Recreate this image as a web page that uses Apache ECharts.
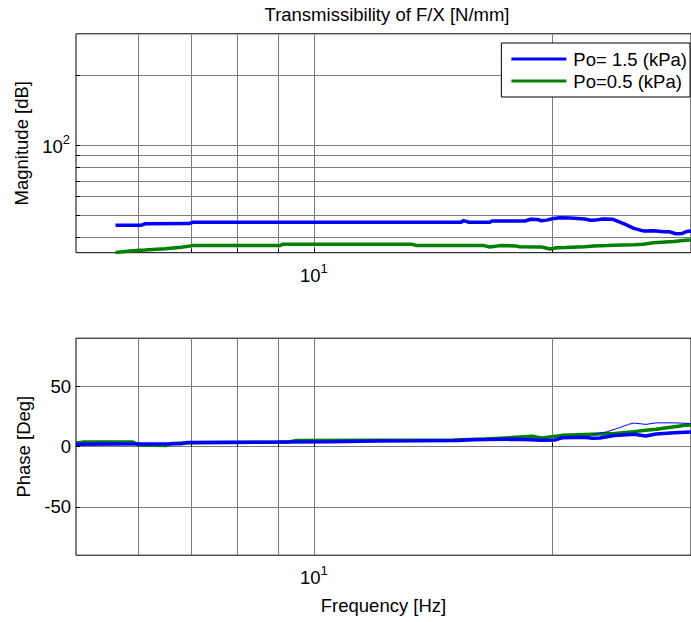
<!DOCTYPE html>
<html>
<head>
<meta charset="utf-8">
<script src="https://cdn.jsdelivr.net/npm/echarts@6/dist/echarts.min.js"></script>
<style>
html, body { margin: 0; padding: 0; background: #fff; }
#chart { width: 691px; height: 622px; }
</style>
</head>
<body>
<div id="chart"></div>
<script>
// Transmissibility magnitude (N/mm) vs frequency (Hz), Po = 1.5 kPa
const magFreqHigh = [5.61, 6.05, 6.11, 6.95, 7.02, 15.36, 15.45, 15.6, 15.7, 16.7, 16.8, 18.5, 18.8, 19.2, 19.4, 19.7, 20.0, 20.5, 21.1, 22.0, 22.4, 22.7, 23.2, 23.9, 24.7, 25.4, 26.1, 26.9, 27.7, 28.2, 28.7, 29.2, 29.6, 30.0];
const magHigh = [45.2, 45.3, 45.9, 46.0, 46.6, 46.6, 47.3, 47.0, 46.6, 46.6, 47.2, 47.2, 48.0, 47.9, 47.3, 47.6, 48.2, 48.7, 48.6, 48.1, 47.5, 47.6, 48.1, 48.0, 45.9, 43.9, 42.8, 42.9, 42.4, 42.4, 41.6, 41.7, 42.5, 42.8];

// Transmissibility magnitude, Po = 0.5 kPa
const magFreqLow = [5.61, 5.85, 6.11, 6.48, 6.8, 7.02, 9.07, 9.12, 13.3, 13.5, 16.4, 16.7, 17.2, 18.0, 18.2, 19.4, 19.9, 20.3, 20.8, 22.0, 22.6, 23.5, 24.5, 25.4, 26.1, 26.9, 28.5, 29.5, 30.0];
const magLow = [34.6, 35.1, 35.4, 35.9, 36.4, 37.0, 37.0, 37.5, 37.5, 37.0, 37.0, 36.5, 37.0, 36.9, 36.6, 36.5, 35.8, 36.2, 36.3, 36.6, 36.9, 37.0, 37.2, 37.3, 37.5, 38.1, 38.5, 39.0, 39.1];

// Phase (deg), Po = 1.5 kPa
const phaseFreqHigh = [5.0, 5.6, 6.8, 6.9, 9.0, 10.5, 12.0, 13.5, 15.2, 15.8, 16.5, 18.0, 18.8, 19.4, 20.2, 20.6, 22.0, 22.5, 23.0, 24.0, 25.4, 26.3, 27.1, 28.6, 29.5, 30.0];
const phaseHigh = [2.0, 2.2, 2.4, 3.4, 3.8, 4.2, 4.7, 4.9, 5.2, 5.8, 6.0, 6.1, 5.8, 5.3, 5.6, 7.4, 7.8, 7.0, 7.2, 9.3, 10.3, 8.8, 10.5, 11.5, 12.0, 12.2];

// Phase (deg), Po = 0.5 kPa
const phaseFreqLow = [5.0, 5.1, 5.9, 6.0, 6.5, 6.6, 7.0, 9.3, 9.5, 12.0, 15.0, 16.5, 17.8, 18.9, 19.4, 20.6, 22.0, 24.0, 25.4, 26.3, 27.1, 28.6, 29.5, 30.0];
const phaseLow = [3.0, 3.8, 3.8, 1.5, 1.0, 2.6, 3.2, 4.0, 5.2, 5.4, 5.6, 6.3, 7.6, 8.7, 7.2, 9.4, 10.2, 10.9, 12.5, 13.6, 14.5, 16.6, 17.8, 18.0];

// Phase (deg), Po = 1.5 kPa, repeat run (thin trace)
const phaseFreqRepeat = [22.5, 23.5, 24.3, 25.0, 25.4, 26.3, 27.1, 28.6, 29.5, 30.0];
const phaseRepeat = [10.2, 12.4, 15.5, 18.5, 19.6, 18.5, 19.8, 19.8, 19.4, 19.2];

// Axis ranges, grid lines and labelled ticks
const freqRange = [5, 30];
const magRange = [34.5, 300];
const phaseRange = [-90, 90];
const freqGridValues = [6, 7, 8, 9, 10, 20];
const freqLabelValues = [10];
const magGridValues = [40, 50, 60, 70, 80, 90, 100, 200];
const magLabelValues = [100];
const phaseTickValues = [-50, 0, 50];

const legendHigh = 'Po= 1.5 (kPa)';
const legendLow = 'Po=0.5 (kPa)';

const FONT = '"Liberation Sans", Arial, Helvetica, sans-serif';
const FS = 18.5;
const lg = Math.log10;
const pairs = (xs, ys, fy) => xs.map((x, i) => [lg(x), fy ? fy(ys[i]) : ys[i]]);

const gridColor = '#7a7a7a';
const powRich = {
  b: { fontSize: FS, fontFamily: FONT, color: '#000', lineHeight: 23, verticalAlign: 'bottom' },
  s: { fontSize: 13, fontFamily: FONT, color: '#000', lineHeight: 23, verticalAlign: 'top' }
};
const powLabel = v => '{b|10}{s|' + Math.round(v) + '}';

function logXAxis(gridIndex, extra) {
  return Object.assign({
    type: 'value', gridIndex,
    min: lg(freqRange[0]), max: lg(freqRange[1]),
    axisLine: { show: false },
    axisTick: { show: true, inside: true, length: 4, customValues: freqGridValues.map(lg), lineStyle: { color: '#000' } },
    axisLabel: { customValues: freqLabelValues.map(lg), formatter: powLabel, rich: powRich, margin: 9 },
    splitLine: { show: true, lineStyle: { color: gridColor, width: 1 } }
  }, extra || {});
}

const chart = echarts.init(document.getElementById('chart'), null, { renderer: 'svg' });

chart.setOption({
  animation: false,
  backgroundColor: '#fff',
  title: {
    text: 'Transmissibility of F/X [N/mm]',
    left: 382, top: 0, textAlign: 'center',
    textStyle: { fontSize: FS, fontWeight: 'normal', fontFamily: FONT, color: '#000' }
  },
  legend: {
    data: [legendHigh, legendLow],
    orient: 'vertical', right: 1, top: 43,
    icon: 'rect', itemWidth: 55, itemHeight: 3, itemGap: 2,
    padding: [6, 3, 6, 10],
    borderColor: '#000', borderWidth: 1, backgroundColor: '#fff',
    selectedMode: false,
    textStyle: { fontSize: FS, fontFamily: FONT, color: '#000', lineHeight: 20, padding: [0, 0, 0, 2] }
  },
  grid: [
    { left: 76, top: 33.8, width: 622.5, height: 218.9, show: true, borderColor: '#000', borderWidth: 1, backgroundColor: '#fff' },
    { left: 76, top: 338.2, width: 622.5, height: 217, show: true, borderColor: '#000', borderWidth: 1, backgroundColor: '#fff' }
  ],
  xAxis: [
    logXAxis(0),
    logXAxis(1, {
      name: 'Frequency [Hz]', nameLocation: 'middle', nameGap: 41,
      nameTextStyle: { fontSize: FS, fontFamily: FONT, color: '#000' }
    })
  ],
  yAxis: [
    {
      type: 'value', gridIndex: 0,
      min: lg(magRange[0]), max: lg(magRange[1]),
      axisLine: { show: false },
      axisTick: { show: true, inside: true, length: 4, customValues: magGridValues.map(lg), lineStyle: { color: '#000' } },
      axisLabel: { customValues: magLabelValues.map(lg), formatter: powLabel, rich: powRich, margin: 6 },
      splitLine: { show: true, lineStyle: { color: gridColor, width: 1 } },
      name: 'Magnitude [dB]', nameLocation: 'middle', nameGap: 45,
      nameTextStyle: { fontSize: FS, fontFamily: FONT, color: '#000' }
    },
    {
      type: 'value', gridIndex: 1,
      min: phaseRange[0], max: phaseRange[1],
      axisLine: { show: false },
      axisTick: { show: true, inside: true, length: 4, customValues: phaseTickValues, lineStyle: { color: '#000' } },
      axisLabel: { customValues: phaseTickValues, fontSize: FS, fontFamily: FONT, color: '#000', margin: 5 },
      splitLine: { show: true, lineStyle: { color: gridColor, width: 1 } },
      name: 'Phase [Deg]', nameLocation: 'middle', nameGap: 42,
      nameTextStyle: { fontSize: FS, fontFamily: FONT, color: '#000' }
    }
  ],
  series: [
    {
      name: legendHigh, type: 'line', xAxisIndex: 0, yAxisIndex: 0,
      data: pairs(magFreqHigh, magHigh, lg),
      showSymbol: false, symbol: 'none', color: '#0000ff',
      lineStyle: { width: 3.5, color: '#0000ff' }, z: 3
    },
    {
      name: legendLow, type: 'line', xAxisIndex: 0, yAxisIndex: 0,
      data: pairs(magFreqLow, magLow, lg),
      showSymbol: false, symbol: 'none', color: '#008000',
      lineStyle: { width: 3.5, color: '#008000' }, z: 3
    },
    {
      name: legendLow, type: 'line', xAxisIndex: 1, yAxisIndex: 1,
      data: pairs(phaseFreqLow, phaseLow),
      showSymbol: false, symbol: 'none', color: '#008000',
      lineStyle: { width: 3.5, color: '#008000' }, z: 3
    },
    {
      name: legendHigh, type: 'line', xAxisIndex: 1, yAxisIndex: 1,
      data: pairs(phaseFreqHigh, phaseHigh),
      showSymbol: false, symbol: 'none', color: '#0000ff',
      lineStyle: { width: 3.5, color: '#0000ff' }, z: 4
    },
    {
      name: 'repeat', type: 'line', xAxisIndex: 1, yAxisIndex: 1,
      data: pairs(phaseFreqRepeat, phaseRepeat),
      showSymbol: false, symbol: 'none', color: '#0000ff',
      lineStyle: { width: 1, color: '#0000ff' }, z: 5
    }
  ]
});
</script>
</body>
</html>
